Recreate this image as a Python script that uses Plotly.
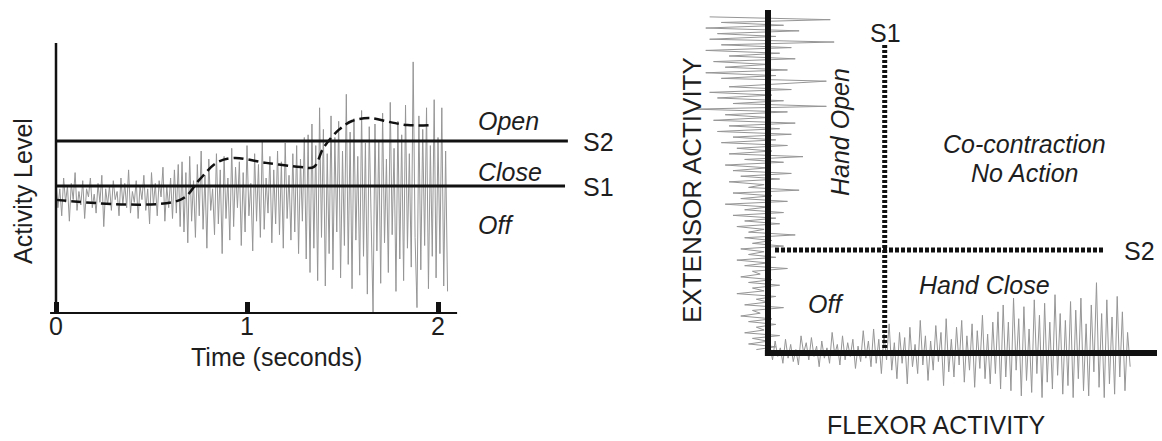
import plotly.graph_objects as go

# ---------------- data ----------------
# Left panel: single-channel activity (arbitrary activity units, 0-10)
SAMPLE_DT = 0.01  # seconds between samples
activity = [
    # 0.00 - 0.65 s : resting
    4.9, 3.9, 4.6, 3.6, 5.0, 4.1, 4.7, 3.4, 4.8, 4.2,
    5.2, 3.8, 4.5, 4.0, 4.9, 3.5, 4.6, 4.3, 5.0, 3.9,
    4.4, 3.7, 4.8, 4.1, 5.1, 3.2, 4.6, 4.0, 4.7, 3.8,
    4.9, 4.2, 4.5, 3.6, 5.0, 4.0, 4.8, 3.9, 5.3, 3.7,
    4.5, 4.1, 4.9, 3.5, 4.7, 4.2, 5.1, 3.8, 4.6, 3.3,
    5.2, 4.0, 4.8, 3.6, 4.9, 4.3, 5.4, 3.4, 4.7, 3.9,
    5.0, 3.5, 5.3, 3.7, 5.5, 3.2,
    # 0.66 - 1.30 s : moderate contraction
    5.6, 3.0, 5.2, 2.6, 5.8, 3.4, 4.9, 2.8, 5.5, 3.6,
    6.0, 3.1, 5.1, 2.4, 5.7, 3.8, 4.6, 2.9, 5.9, 3.3,
    5.3, 2.2, 5.8, 3.5, 5.0, 2.7, 6.1, 3.2, 5.4, 3.9,
    5.6, 2.5, 5.2, 3.0, 6.2, 3.6, 4.8, 2.3, 5.9, 3.4,
    5.5, 2.8, 6.4, 3.1, 5.0, 3.7, 5.8, 2.6, 5.3, 3.3,
    6.0, 2.9, 5.6, 2.4, 6.3, 3.5, 5.1, 2.7, 5.9, 3.0,
    6.2, 2.2, 5.7, 3.4, 6.5,
    # 1.31 - 2.05 s : strong contraction
    2.0, 6.6, 1.5, 7.0, 2.4, 6.2, 1.2, 7.6, 2.8, 6.8,
    1.0, 5.9, 2.2, 7.3, 1.6, 6.5, 3.0, 7.1, 1.3, 6.0,
    2.5, 8.1, 1.8, 6.7, 0.9, 7.2, 2.7, 5.8, 1.4, 7.5,
    2.1, 6.3, 0.7, 6.9, 3.2, 0.0, 7.0, 2.3, 6.4, 1.1,
    7.4, 2.6, 5.7, 1.5, 7.8, 2.9, 6.1, 0.8, 7.1, 2.0,
    6.6, 1.2, 7.7, 2.4, 5.9, 1.7, 9.3, 2.8, 0.2, 7.3,
    1.6, 6.8, 2.5, 7.6, 0.9, 6.2, 2.1, 7.9, 1.3, 6.5,
    2.2, 7.6, 1.0, 6.0, 0.8,
]
envelope_t = [0.0, 0.65, 0.75, 0.84, 0.93, 1.10, 1.28, 1.35, 1.40, 1.48,
              1.55, 1.64, 1.75, 1.84, 1.97]
envelope_level = [4.19, 4.19, 4.93, 5.56, 5.74, 5.56, 5.41, 5.41, 6.11, 6.78,
                  7.11, 7.22, 7.07, 6.96, 6.96]
threshold_s1 = 4.70
threshold_s2 = 6.37
threshold_end_s1 = 2.665
threshold_end_s2 = 2.68
time_ticks = [0, 1, 2]
time_tick_labels = ["0", "1", "2"]

# Right panel: extensor (vertical) and flexor (horizontal) traces, units 0-10
extensor_span = (0.1, 9.8)
extensor_signal = [
    -0.3, 0.2, -0.5, 0.0, -0.4, 0.3, -0.6, -0.1, -0.3, 0.2,
    -0.5, 0.1, -0.7, -0.2, -0.4, 0.4, -0.6, 0.0, -0.3, 0.2,
    -0.8, -0.1, -0.4, 0.3, -0.5, 0.1, -0.7, -0.2, -0.4, 0.5,
    -0.6, 0.0, -0.8, 0.2, -0.5, -0.1, -0.7, 0.4, -0.4, 0.1,
    -0.6, 0.7, -0.5, -0.1, -0.8, 0.3, -0.6, 0.2,
    -0.9, 0.4, -0.6, 0.0, -1.1, 0.5, -0.7, 0.1, -0.9, 0.8,
    -0.5, -0.1, -1.0, 0.3, -0.7, 0.6, -0.9, 0.0, -1.1, 0.4,
    -0.6, 0.9, -1.0, 0.1, -0.8, 0.5, -1.2, 0.2, -0.9, 0.6,
    -1.3, 0.3, -1.0, 0.7, -1.4, 0.0, -1.1, 0.5, -1.9, 1.5,
    -0.9, 0.4, -1.3, 0.1, -1.5, 0.6, -1.0, 0.3, 1.5, -1.2,
    0.2, -1.6, 0.5, -1.1, 0.0, -1.4, 0.7, -1.0, 0.3, -1.6,
    0.6, -1.2, 1.7, -1.5, 0.2, -1.3, 0.8, -1.6, 0.4, -1.2, 1.6, -1.5,
]
flexor_span = (0.05, 9.31)
flexor_signal = [
    0.2, -0.2, 0.35, -0.1, 0.15, -0.3, 0.4, -0.15, 0.25, -0.25,
    0.1, -0.35, 0.5, 0.0, 0.3, -0.2, 0.45, -0.1, 0.2, -0.4,
    0.35, -0.15, 0.15, -0.3, 0.6, -0.05, 0.25, -0.35, 0.5, -0.2,
    0.3, -0.1, 0.4, -0.45, 0.2, -0.25, 0.65, -0.15, 0.35, -0.4,
    0.7, -0.3, 0.4, -0.6, 0.55, -0.2, 0.85, -0.5, 0.3, -0.75,
    0.6, -0.3, 0.45, -0.9, 0.75, -0.4, 0.25, -0.6, 0.95, -0.35,
    0.5, -0.8, 0.35, -0.5, 0.8, -0.25, 0.6, -0.95, 1.0, -0.55,
    0.4, -0.7, 0.75, -0.35, 0.95, -0.85, 0.5, -0.5, 0.85, -1.0,
    0.65, -0.45, 1.1, -0.75, 0.55, -0.9, 0.9, -0.6, 1.2, -1.05,
    1.4, -0.7, 0.9, -1.1, 1.6, -0.5, 1.0, -1.25, 1.35, -0.8,
    0.7, -1.15, 1.55, -0.6, 1.1, -1.3, 1.45, -0.85, 0.9, -1.05,
    1.7, -0.65, 1.15, -1.2, 0.95, -0.95, 1.5, -1.3, 1.25, -0.75,
    1.6, -1.1, 0.85, -1.25, 1.4, -0.55, 2.05, -1.0, 1.15, -1.3,
    1.55, -0.9, 1.05, -1.2, 1.65, -0.7, 1.2, -1.1, 0.6, -0.4,
]
s1_flexor = 3.0
s2_extensor = 3.0
axis_max = 10.0
s1_top = 9.04
s2_start, s2_end = 0.18, 8.66

# ---------------- figure ----------------
W, H = 1162, 441
FONT = "Liberation Sans"
TXT = "#1e1e1e"
GRAY = "rgb(150,150,150)"


def xp(px):
    return px / W


def yp(py):
    return 1 - py / H


def spaced(lo, hi, n):
    return [lo + i * (hi - lo) / (n - 1) for i in range(n)]


time = [i * SAMPLE_DT for i in range(len(activity))]
ext_pos = spaced(extensor_span[0], extensor_span[1], len(extensor_signal))
flex_pos = spaced(flexor_span[0], flexor_span[1], len(flexor_signal))

fig = go.Figure()
# left panel
fig.add_trace(go.Scatter(x=time, y=activity, mode="lines",
                         line=dict(color=GRAY, width=1), xaxis="x", yaxis="y"))
fig.add_trace(go.Scatter(x=[0, threshold_end_s2], y=[threshold_s2] * 2, mode="lines",
                         line=dict(color="#111", width=3), xaxis="x", yaxis="y"))
fig.add_trace(go.Scatter(x=[0, threshold_end_s1], y=[threshold_s1] * 2, mode="lines",
                         line=dict(color="#111", width=3), xaxis="x", yaxis="y"))
fig.add_trace(go.Scatter(x=envelope_t, y=envelope_level, mode="lines",
                         line=dict(color="#111", width=2.5, dash="10px,5px", shape="spline"),
                         xaxis="x", yaxis="y"))
# right panel
fig.add_trace(go.Scatter(x=extensor_signal, y=ext_pos, mode="lines",
                         line=dict(color=GRAY, width=1), xaxis="x2", yaxis="y2"))
fig.add_trace(go.Scatter(x=flex_pos, y=flexor_signal, mode="lines",
                         line=dict(color=GRAY, width=1), xaxis="x2", yaxis="y2"))

shapes = [
    # left axes
    dict(type="line", xref="x", yref="y", x0=0, x1=0, y0=0, y1=10,
         line=dict(color="#111", width=2.5)),
    dict(type="line", xref="x", yref="y", x0=-0.031, x1=2.10, y0=0, y1=0,
         line=dict(color="#111", width=2)),
    # right axes
    dict(type="line", xref="x2", yref="y2", x0=0, x1=0, y0=-0.08, y1=axis_max,
         line=dict(color="#111", width=6)),
    dict(type="line", xref="x2", yref="y2", x0=-0.08, x1=axis_max, y0=0, y1=0,
         line=dict(color="#111", width=6)),
    # thresholds
    dict(type="line", xref="x2", yref="y2", x0=s1_flexor, x1=s1_flexor, y0=0, y1=s1_top,
         line=dict(color="#111", width=5, dash="3px,2px")),
    dict(type="line", xref="x2", yref="y2", x0=s2_start, x1=s2_end, y0=s2_extensor, y1=s2_extensor,
         line=dict(color="#111", width=5, dash="4px,2px")),
]


def ann(text, x, y, size=25, angle=0, xanchor="center", italic=False):
    if italic:
        text = "<i>" + text + "</i>"
    return dict(text=text, x=xp(x), y=yp(y), xref="paper", yref="paper",
                showarrow=False, xanchor=xanchor, yanchor="middle", textangle=angle,
                font=dict(family=FONT, size=size, color=TXT))


annotations = [
    ann("Activity Level", 23, 191, angle=-90),
    ann("Time (seconds)", 276, 357),
    ann("Open", 476, 121, xanchor="left", italic=True),
    ann("Close", 476, 172, xanchor="left", italic=True),
    ann("Off", 476, 225, xanchor="left", italic=True),
    ann("S2", 581, 142, xanchor="left"),
    ann("S1", 581, 187, xanchor="left"),
    ann("S1", 886, 33),
    ann("S2", 1139, 251),
    ann("Hand Open", 840, 132, angle=-90, italic=True),
    ann("Co-contraction", 1024, 144, italic=True),
    ann("No Action", 1024, 173, italic=True),
    ann("Hand Close", 984, 285, italic=True),
    ann("Off", 826, 304, italic=True),
    ann("EXTENSOR ACTIVITY", 692, 190, size=26, angle=-90),
    ann("FLEXOR ACTIVITY", 936, 425),
]

fig.update_layout(
    width=W, height=H, margin=dict(l=0, r=0, t=0, b=0),
    paper_bgcolor="white", plot_bgcolor="rgba(0,0,0,0)", showlegend=False,
    xaxis=dict(domain=[xp(40), xp(620)], range=[(40 - 56) / 191, (620 - 56) / 191],
               anchor="free", position=yp(313), showgrid=False, zeroline=False, showline=False,
               tickmode="array", tickvals=time_ticks, ticktext=time_tick_labels,
               ticks="inside", ticklen=11, tickwidth=5, tickcolor="#111",
               ticklabelstandoff=-4,
               tickfont=dict(family=FONT, size=25, color=TXT)),
    yaxis=dict(domain=[yp(340), 1], range=[(313 - 340) / 27, 313 / 27], visible=False,
               anchor="x"),
    xaxis2=dict(domain=[xp(670), 1], range=[(670 - 768) / 38.9, (1162 - 768) / 38.9],
                visible=False, anchor="y2"),
    yaxis2=dict(domain=[0, 1], range=[-(441 - 353) / 34.3, 353 / 34.3], visible=False,
                anchor="x2"),
    shapes=shapes, annotations=annotations,
)

fig.write_html("out.html")
